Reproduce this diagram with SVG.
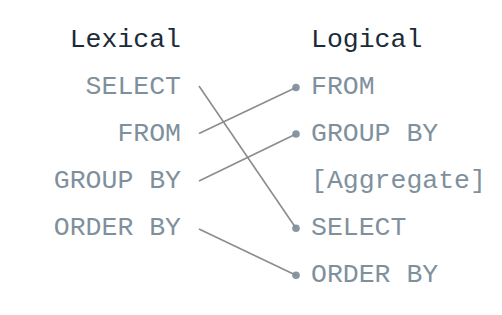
<svg xmlns="http://www.w3.org/2000/svg" width="502" height="315" viewBox="0 0 502 315">
<style>
text{font-family:"Liberation Mono","DejaVu Sans Mono",monospace;font-size:26.5px}
.h{fill:#1b2b38}
.i{fill:#7f909d}
.l{text-anchor:end}
.c{stroke:#8c8c8c;stroke-width:1.6;fill:none}
.d{fill:#8797a5}
</style>
<rect width="502" height="315" fill="#ffffff"/>
<g id="lexical">
<text class="h l" x="181" y="47">Lexical</text>
<g id="lex-select"><text class="i l" x="181" y="94">SELECT</text></g>
<g id="lex-from"><text class="i l" x="181" y="141">FROM</text></g>
<g id="lex-groupby"><text class="i l" x="181" y="188">GROUP BY</text></g>
<g id="lex-orderby"><text class="i l" x="181" y="235">ORDER BY</text></g>
</g>
<g id="logical">
<text class="h" x="311" y="47">Logical</text>
<g id="log-from"><circle class="d" cx="296" cy="87.5" r="3.8"/><text class="i" x="311" y="94">FROM</text></g>
<g id="log-groupby"><circle class="d" cx="296" cy="134" r="3.8"/><text class="i" x="311" y="141">GROUP BY</text></g>
<g id="log-aggregate"><text class="i" x="311" y="188">[Aggregate]</text></g>
<g id="log-select"><circle class="d" cx="296" cy="228.3" r="3.8"/><text class="i" x="311" y="235">SELECT</text></g>
<g id="log-orderby"><circle class="d" cx="296" cy="275.3" r="3.8"/><text class="i" x="311" y="282">ORDER BY</text></g>
</g>
<g id="connectors">
<line class="c" x1="199" y1="86" x2="296" y2="228.3"/>
<line class="c" x1="199" y1="133.5" x2="296" y2="87.5"/>
<line class="c" x1="199" y1="181" x2="296" y2="134"/>
<line class="c" x1="199" y1="229" x2="296" y2="275.3"/>
</g>
</svg>
